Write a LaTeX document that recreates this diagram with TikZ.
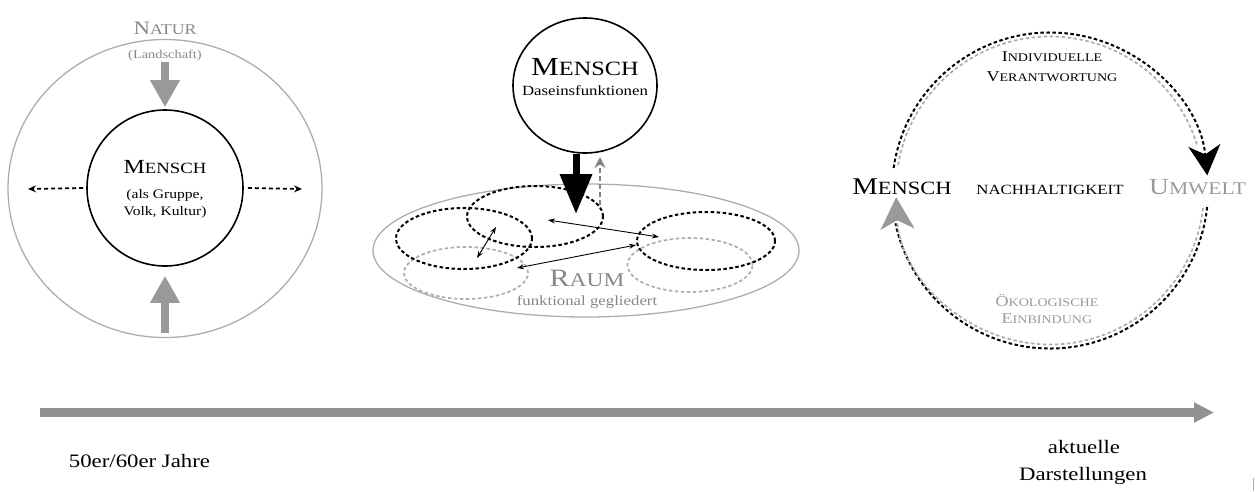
\documentclass[tikz,border=0pt]{standalone}
\usepackage{fontspec}
\setmainfont{Liberation Serif}[FakeStretch=1.2]
\usepackage{graphicx}
\usetikzlibrary{arrows.meta,shapes.geometric}
\definecolor{lgray}{gray}{0.68}
\definecolor{agray}{gray}{0.6}
\definecolor{tgray}{gray}{0.53}
\newcommand\smc[1]{\scalebox{0.78}{#1}}
\newcommand\fs[1]{\fontsize{#1}{#1}\selectfont}
\begin{document}
\begin{tikzpicture}[x=1pt,y=-1pt,
  txt/.style={inner sep=0pt, anchor=base},
  blackdash/.style={draw=black, line width=2pt, dash pattern=on 3.5pt off 2.5pt},
  graydash/.style={draw=lgray, line width=1.7pt, dash pattern=on 3.5pt off 2.5pt},
  thinarrow/.style={line width=0.9pt, {Stealth[length=7pt,width=5pt]}-{Stealth[length=7pt,width=5pt]}},
  grayarrow/.style={draw=agray, line width=8pt, -{Triangle[length=27pt,width=28pt]}},
  dasharrow/.style={draw=black, line width=1.8pt, dash pattern=on 4pt off 3pt, -{Stealth[length=8pt,width=7pt]}},
  dellipse/.style={ellipse, inner sep=0pt},
]
\useasboundingbox (0,0) rectangle (1255,491);

% ---------------- left diagram ----------------
\node[ellipse, draw=lgray, line width=1.3pt, minimum width=314pt, minimum height=298pt] (natur) at (165,188.5) {};
\node[circle, draw=black, line width=1.6pt, minimum size=156pt] (lm) at (165,188) {};
\node[txt, text=tgray] (naturt) at (165,34) {\fs{19}N\smc{ATUR}};
\node[txt, text=tgray] (land) at (165,58) {\fs{12}(Landschaft)};
\node[txt] (lm1) at (165,173) {\fs{20}M\smc{ENSCH}};
\node[txt] (lm2) at (165,198) {\fs{13}(als Gruppe,};
\node[txt] (lm3) at (165,215) {\fs{13}Volk, Kultur)};
\coordinate (dstart) at (165,62);
\coordinate (ubase) at (165,333);
\coordinate (lout) at (28,189);
\coordinate (rout) at (302,189);
\draw[grayarrow] (dstart) -- ([yshift=2pt]lm.north);
\draw[grayarrow] (ubase) -- ([yshift=-9pt]lm.south);
\draw[dasharrow] ([xshift=-3pt]lm.west) -- (lout);
\draw[dasharrow] ([xshift=4pt]lm.east) -- (rout);

% ---------------- middle diagram ----------------
\node[ellipse, draw=lgray, line width=1.3pt, minimum width=426pt, minimum height=133pt] (raum) at (586,250.5) {};
\node[dellipse, graydash, minimum width=124pt, minimum height=52pt] (e4) at (466,273) {};
\node[dellipse, graydash, minimum width=125pt, minimum height=54pt] (e5) at (690,265) {};
\node[dellipse, blackdash, minimum width=136pt, minimum height=61pt] (e1) at (535,216.5) {};
\node[dellipse, blackdash, minimum width=136pt, minimum height=61pt] (e2) at (464,238.5) {};
\node[dellipse, blackdash, minimum width=138pt, minimum height=58pt] (e3) at (706,241) {};
\node[ellipse, draw=black, line width=1.6pt, minimum width=144pt, minimum height=135pt] (mm) at (585,85.5) {};
\node[txt] (mm1) at (585,75) {\fs{26}M\smc{ENSCH}};
\node[txt] (mm2) at (585,95) {\fs{14}Daseinsfunktionen};
\node[txt, text=tgray] (raum1) at (587,286) {\fs{25}R\smc{AUM}};
\node[txt, text=tgray] (raum2) at (587,305) {\fs{14}funktional gegliedert};
\coordinate (btip) at (576,214);
\coordinate (gbot) at (600,205);
\coordinate (gtip) at (600,157);
\draw[line width=7pt, -{Triangle[length=40pt,width=31pt]}] (mm.south -| btip) -- (btip);
\draw[draw=agray!85!black, line width=2.8pt, dash pattern=on 5pt off 3pt, -{Stealth[length=11pt,width=11pt]}] (gbot) -- (gtip);
\coordinate (a1) at (548,220); \coordinate (a2) at (659,237);
\coordinate (b1) at (517,268); \coordinate (b2) at (636,245);
\coordinate (c1) at (496,227); \coordinate (c2) at (477,258);
\draw[thinarrow] (a1) -- (a2);
\draw[thinarrow] (b1) -- (b2);
\draw[thinarrow] (c1) -- (c2);

% ---------------- right diagram ----------------
\coordinate (rc) at (1050,190.5);
\node[txt] (rm) at (902,194) {\fs{24}M\smc{ENSCH}};
\node[txt] (nh) at (1050,194) {\fs{18}\smc{NACHHALTIGKEIT}};
\node[txt, text=agray] (uw) at (1197.5,194) {\fs{23}U\smc{MWELT}};
\node[txt] (iv1) at (1052,61) {\fs{15}I\smc{NDIVIDUELLE}};
\node[txt] (iv2) at (1052,81) {\fs{15}V\smc{ERANTWORTUNG}};
\node[txt, text=agray] (oe1) at (1047,306) {\fs{15}Ö\smc{KOLOGISCHE}};
\node[txt, text=agray] (oe2) at (1047,323) {\fs{15}E\smc{INBINDUNG}};
% top arc
\draw[graydash] ([shift={(189.5:154)}]rc) arc[start angle=189.5, end angle=343, radius=154];
\draw[blackdash, -{Stealth[length=30pt,width=32pt,inset=9pt]}] ([shift={(188.2:158)}]rc) arc[start angle=188.2, end angle=354.5, radius=158];
% bottom arc
\draw[blackdash] ([shift={(6:158)}]rc) arc[start angle=6, end angle=168, radius=158];
\draw[graydash, -{Stealth[length=32pt,width=34pt,inset=9pt,color=agray,fill=agray]}] ([shift={(6.5:154)}]rc) arc[start angle=6.5, end angle=177.5, radius=154];

% ---------------- time axis ----------------
\coordinate (t0) at (40,412.5);
\coordinate (t1) at (1214,412.5);
\draw[draw=agray!95!black, line width=9pt, -{Triangle[length=20pt,width=19pt]}] (t0) -- (t1);
\node[txt] (y1) at (139.5,467) {\fs{19}50er/60er Jahre};
\node[txt] (y2) at (1084,453) {\fs{19}aktuelle};
\node[txt] (y3) at (1083,480) {\fs{19}Darstellungen};
\coordinate (m0) at (1253,478);
\coordinate (m1) at (1253,491);
\draw[lgray, line width=0.6pt] (m0) -- (m1);
\end{tikzpicture}
\end{document}
